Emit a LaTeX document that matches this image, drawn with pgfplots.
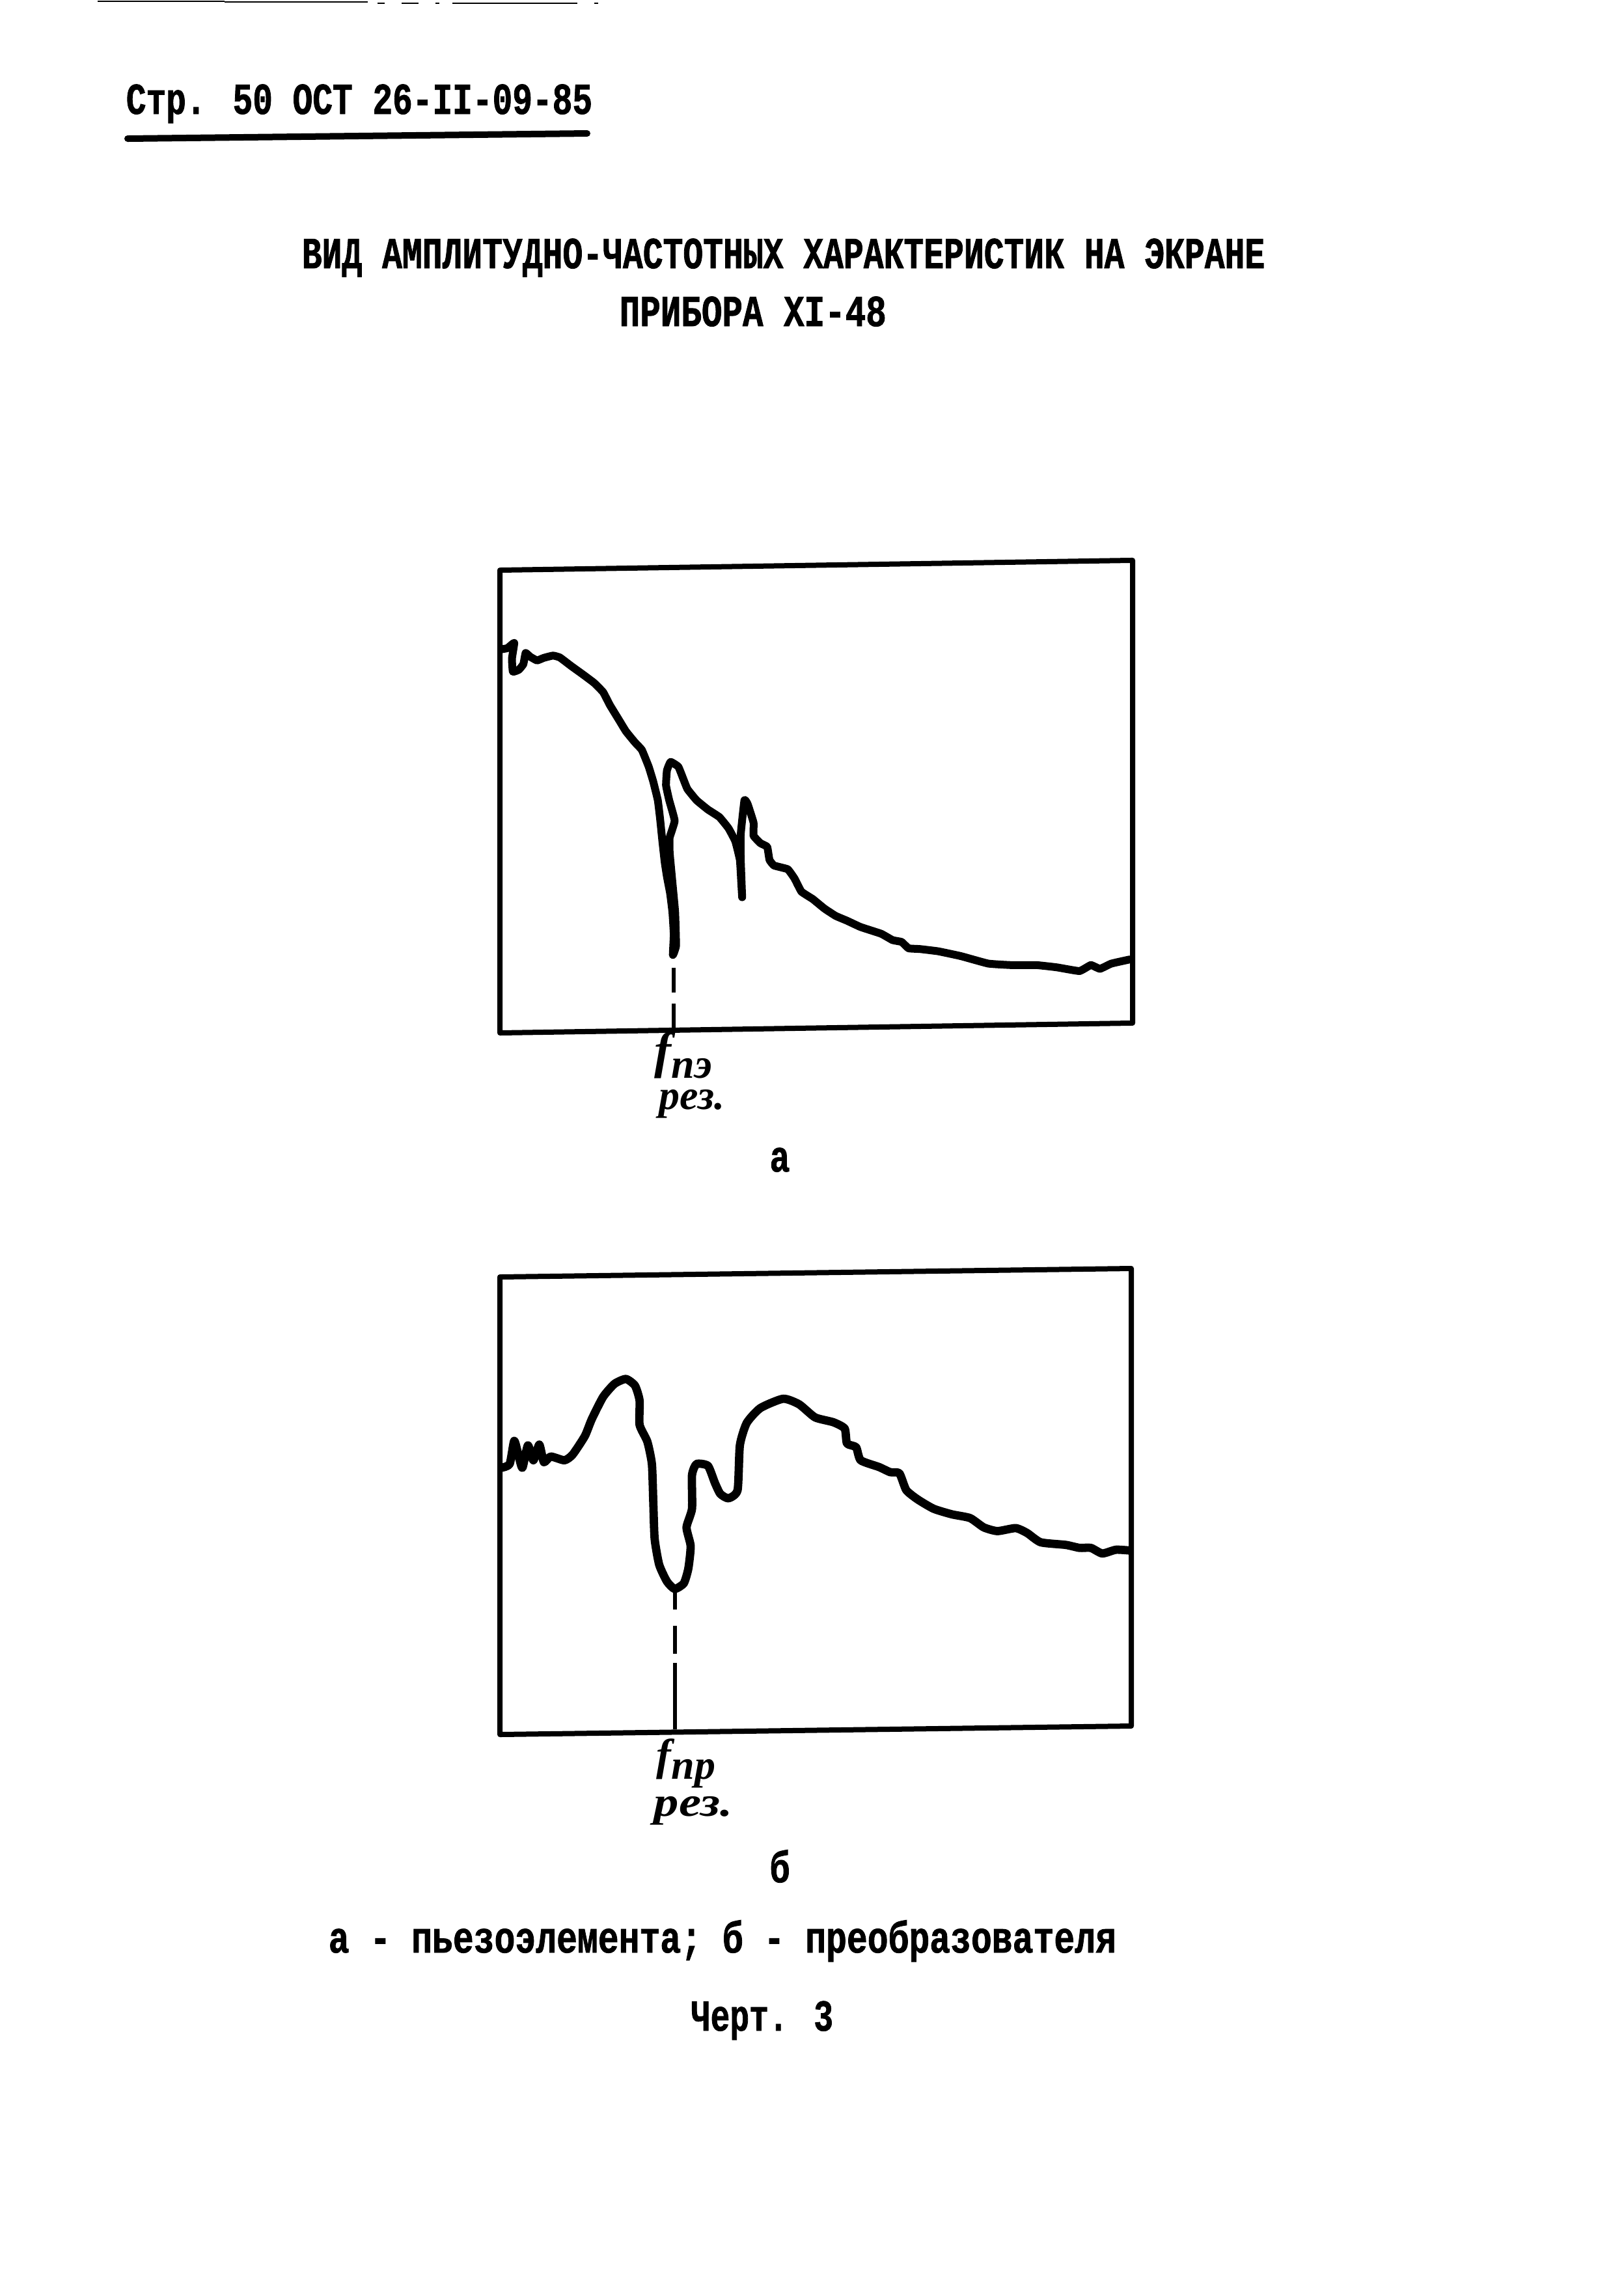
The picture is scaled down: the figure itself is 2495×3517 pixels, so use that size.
\documentclass[border=0pt]{standalone}
\usepackage{fontspec}
\usepackage{pgfplots}
\usepackage{pgfplotstable}
\pgfplotsset{compat=1.18}
\newfontfamily\tw[FakeStretch=0.76,FakeBold=1.2]{Liberation Mono}[UprightFont={* Bold}]
\newfontfamily\hand{Liberation Serif}
\newcommand{\typed}{\tw\fontsize{17}{20}\selectfont}
\newcommand{\handmid}{\hand\itshape\bfseries\fontsize{16}{19}\selectfont}
\newcommand{\handf}[2]{\raisebox{#2}{\hand\itshape\bfseries\fontsize{#1}{22}\selectfont f}}

% curve readings, in zoomed screen units
\pgfplotstableread{
x y
72 275
85 272
100 258
95 300
97 335
110 330
120 315
125 285
135 295
150 305
165 298
185 292
200 297
225 320
250 342
275 365
295 390
310 425
330 465
345 495
365 525
380 545
395 590
405 630
415 680
420 730
425 790
430 845
435 885
442 930
447 980
450 1040
448 1095
455 1070
453 980
447 900
441 820
441 780
452 735
440 680
433 640
435 600
443 577
460 590
470 620
480 650
500 680
525 705
550 725
570 755
585 790
595 840
598 900
600 940
597 840
597 770
605 680
612 690
625 740
625 775
640 795
655 805
660 840
670 855
700 865
715 890
730 925
755 945
780 970
805 990
830 1003
860 1020
905 1038
930 1055
950 1060
965 1077
990 1079
1030 1085
1080 1098
1140 1118
1190 1122
1245 1122
1290 1128
1340 1138
1365 1122
1385 1132
1410 1118
1450 1107
}\curvea

\pgfplotstableread{
x y
72 550
90 540
100 478
110 520
118 550
130 490
142 530
155 488
165 535
180 520
210 530
228 515
255 465
270 420
295 360
320 325
345 312
365 330
375 370
375 435
392 480
402 540
405 640
408 740
418 810
435 855
452 875
472 860
482 820
487 760
478 710
490 660
490 570
500 540
525 545
540 590
552 620
570 632
590 610
595 490
610 430
640 390
690 365
725 380
760 415
800 428
825 445
830 485
850 495
860 530
900 548
925 562
945 565
960 610
985 635
1020 660
1060 675
1100 685
1130 710
1160 720
1200 712
1225 725
1255 750
1310 757
1340 765
1365 765
1390 780
1420 770
1450 772
}\curveb

\pgfplotsset{
  screen/.style={
    x={(0.25pt,#1*0.25pt)}, y={(0pt,0.25pt)},
    anchor=origin, clip=false,
    xtick=\empty, ytick=\empty,
    axis line style={line width=2pt, line join=round},
  },
  trace/.style={black, line join=round, line cap=round, no marks},
  drop/.style={black, line width=1.5pt, no marks},
}

\begin{document}
\begin{tikzpicture}[x=0.25pt,y=-0.25pt]
\path[use as bounding box] (0,0) rectangle (2495,3517);

% scan edge at the top of the sheet
\draw[line width=0.6pt] (150,2)--(345,2) (345,3)--(565,3) (580,5)--(591,5) (617,5)--(643,5) (669,5)--(675,5) (695,5)--(887,5) (913,5)--(919,5);

\node[anchor=base west,inner sep=0] at (193,175) {\scalebox{0.99}[1]{\typed Стр. 50 ОСТ 26-II-09-85}};
\draw[line width=2.5pt,line cap=round] (196,213)--(902,205);

\node[anchor=base west,inner sep=0] at (463,412) {\scalebox{0.994}[1]{\typed ВИД АМПЛИТУДНО-ЧАСТОТНЫХ ХАРАКТЕРИСТИК НА ЭКРАНЕ}};
\node[anchor=base west,inner sep=0] at (951,501) {\scalebox{1.017}[1]{\typed ПРИБОРА ХI-48}};

\coordinate (A) at (768,1587);
\coordinate (B) at (768,2665);

\begin{axis}[screen=0.0155, at={(A)}, xmin=0, xmax=972, ymin=0, ymax=711]
  \addplot[trace, line width=3pt, smooth, tension=0.2] table[x expr=0.7003*\thisrow{x}-48,
    y expr=747-0.5729*\thisrow{y}-0.0155*(0.7003*\thisrow{x}-48)] {\curvea};
  \addplot[drop] coordinates {(267,96) (267,58)};
  \addplot[drop] coordinates {(267,41) (267,4)};
\end{axis}

\begin{axis}[screen=0.0134, at={(B)}, xmin=0, xmax=970, ymin=0, ymax=703]
  \addplot[trace, line width=3.2pt, smooth, tension=0.35] table[x expr=0.7003*\thisrow{x}-48,
    y expr=725-0.5729*\thisrow{y}-0.0134*(0.7003*\thisrow{x}-48)] {\curveb};
  \addplot[drop] coordinates {(269,224) (269,188)};
  \addplot[drop] coordinates {(269,163) (269,120)};
  \addplot[drop] coordinates {(269,106) (269,4)};
\end{axis}

\node[anchor=base west,inner sep=0] at (1005,1656) {\handf{19.5}{3.9pt}\handmid пэ};
\node[anchor=base west,inner sep=0] at (1012,1704) {\handmid рез.};
\node[anchor=base,inner sep=0] at (1198,1800) {\typed а};

\node[anchor=base west,inner sep=0] at (1008,2733) {\handf{17}{3.4pt}\handmid пр};
\node[anchor=base west,inner sep=0] at (1004,2790) {\scalebox{1.2}[1]{\handmid рез.}};
\node[anchor=base,inner sep=0] at (1198,2892) {\typed б};

\node[anchor=base west,inner sep=0] at (504,3000) {\scalebox{1.027}[1]{\typed а - пьезоэлемента; б - преобразователя}};
\node[anchor=base west,inner sep=0] at (1061,3120) {\scalebox{0.96}[1]{\typed Черт. 3}};
\end{tikzpicture}
\end{document}
